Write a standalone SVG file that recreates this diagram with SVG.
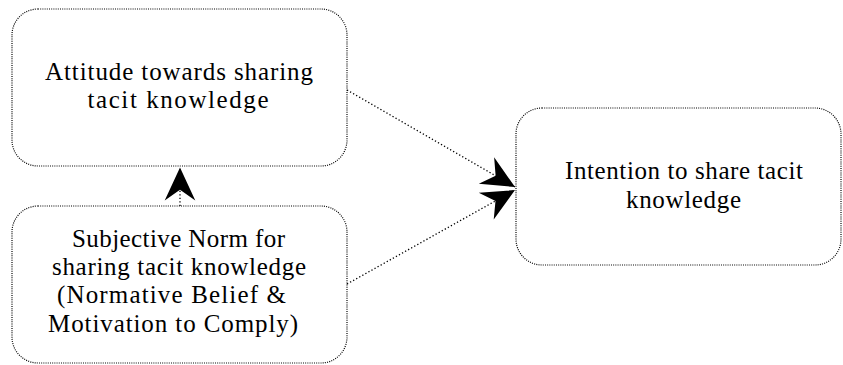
<svg xmlns="http://www.w3.org/2000/svg" width="843" height="365" viewBox="0 0 843 365">
<style>
.box{fill:#fff;stroke:#000;stroke-width:1.2;stroke-dasharray:1 1.2}
.con{fill:none;stroke:#000;stroke-width:1.3;stroke-dasharray:1.3 2.2}
</style>
<defs>
<marker id="ah" markerUnits="userSpaceOnUse" markerWidth="40" markerHeight="40" viewBox="-32 -16 34 32" refX="0" refY="0" orient="auto">
<path d="M0,0 L-28,-13 L-19,0 L-28,13 Z" fill="#000"/>
</marker>
</defs>
<g id="connectors">
<line class="con" x1="180" y1="206" x2="180" y2="167.5" marker-end="url(#ah)"/>
<line class="con" x1="347" y1="90" x2="515" y2="187" marker-end="url(#ah)"/>
<line class="con" x1="347" y1="284" x2="515" y2="190" marker-end="url(#ah)"/>
</g>
<g id="node-attitude">
<rect class="box" x="12" y="9" width="335" height="157" rx="26" ry="26"/>
<g font-family="Liberation Serif" font-size="25" text-anchor="middle" fill="#000">
<text x="179" y="80" textLength="268" lengthAdjust="spacing">Attitude towards sharing</text>
<text x="178" y="108" textLength="181" lengthAdjust="spacing">tacit knowledge</text>
</g>
</g>
<g id="node-norm">
<rect class="box" x="12" y="206" width="335" height="157" rx="26" ry="26"/>
<g font-family="Liberation Serif" font-size="25" text-anchor="middle" fill="#000">
<text x="178.5" y="247" textLength="213" lengthAdjust="spacing">Subjective Norm for</text>
<text x="179" y="275" textLength="254" lengthAdjust="spacing">sharing tacit knowledge</text>
<text x="171.5" y="303" textLength="229" lengthAdjust="spacing">(Normative Belief &amp;</text>
<text x="173" y="332" textLength="250" lengthAdjust="spacing">Motivation to Comply)</text>
</g>
</g>
<g id="node-intention">
<rect class="box" x="516" y="108" width="325" height="157" rx="26" ry="26"/>
<g font-family="Liberation Serif" font-size="25" text-anchor="middle" fill="#000">
<text x="684" y="179" textLength="238" lengthAdjust="spacing">Intention to share tacit</text>
<text x="683.5" y="208" textLength="115" lengthAdjust="spacing">knowledge</text>
</g>
</g>
</svg>
